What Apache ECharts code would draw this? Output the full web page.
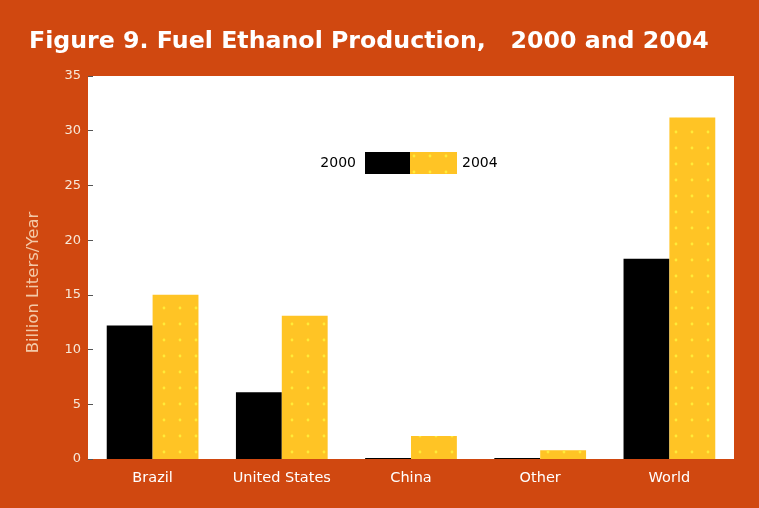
<!DOCTYPE html>
<html>
<head>
<meta charset="utf-8">
<script src="https://cdn.jsdelivr.net/npm/echarts@6/dist/echarts.min.js"></script>
<style>
html,body{margin:0;padding:0;background:#D04810;}
#c{width:759px;height:508px;}
</style>
</head>
<body>
<div id="c"></div>
<script>
var categories = ['Brazil', 'United States', 'China', 'Other', 'World'];
var values2000 = [12.2, 6.1, 0.1, 0.1, 18.3];
var values2004 = [15.0, 13.1, 2.1, 0.8, 31.2];
var yTicks = [0, 5, 10, 15, 20, 25, 30, 35];

var FONT = 'DejaVu Sans';
var chart = echarts.init(document.getElementById('c'));
chart.setOption({
  backgroundColor: '#D04810',
  animation: false,
  title: {
    text: 'Figure 9. Fuel Ethanol Production,   2000 and 2004',
    left: 29, top: 30, padding: 0,
    textStyle: {color: '#ffffff', fontFamily: FONT, fontWeight: 'bold', fontSize: 23.7}
  },
  legend: [{
    data: ['2000'], align: 'right', right: 759 - 410, top: 152, padding: 0,
    itemWidth: 45, itemHeight: 22, itemGap: 0,
    textStyle: {color: '#000', fontSize: 14, fontFamily: FONT, padding: [0, 4, 0, 0]},
    icon: 'rect', selectedMode: false
  }, {
    data: ['2004'], align: 'left', left: 410, top: 152, padding: 0,
    itemWidth: 47, itemHeight: 22, itemGap: 0,
    textStyle: {color: '#000', fontSize: 14, fontFamily: FONT},
    icon: 'rect', selectedMode: false
  }],
  grid: {
    left: 88, right: 25, top: 76, bottom: 49,
    show: true, backgroundColor: '#ffffff', borderWidth: 0
  },
  xAxis: {
    type: 'category', data: categories,
    axisLine: {show: false}, axisTick: {show: false},
    axisLabel: {color: '#ffffff', fontSize: 14.5, margin: 12, fontFamily: FONT, interval: 0, hideOverlap: false}
  },
  yAxis: {
    type: 'value', min: 0, max: 35, interval: 5,
    name: 'Billion Liters/Year', nameLocation: 'middle', nameRotate: 90, nameGap: 46,
    nameTextStyle: {color: '#f3c9a8', fontSize: 16.5, fontFamily: FONT, padding: [0, 30, 0, 0]},
    axisLine: {show: false},
    axisTick: {show: true, inside: true, length: 5, lineStyle: {color: '#555'}},
    splitLine: {show: false},
    axisLabel: {color: '#f7e8d8', fontSize: 13, margin: 7, fontFamily: FONT,
      formatter: function (v) { return yTicks.indexOf(v) >= 0 ? String(v) : ''; }}
  },
  series: [{
    name: '2000', type: 'bar', data: values2000,
    barGap: '0%', barCategoryGap: '29%',
    itemStyle: {color: '#000000'}
  }, {
    name: '2004', type: 'bar', data: values2004,
    itemStyle: {
      color: '#FFC425',
      decal: {symbol: 'circle', symbolSize: 0.35, color: 'rgba(255,240,60,0.9)',
        dashArrayX: 8, dashArrayY: 8, rotation: 0}
    }
  }]
});
</script>
</body>
</html>
